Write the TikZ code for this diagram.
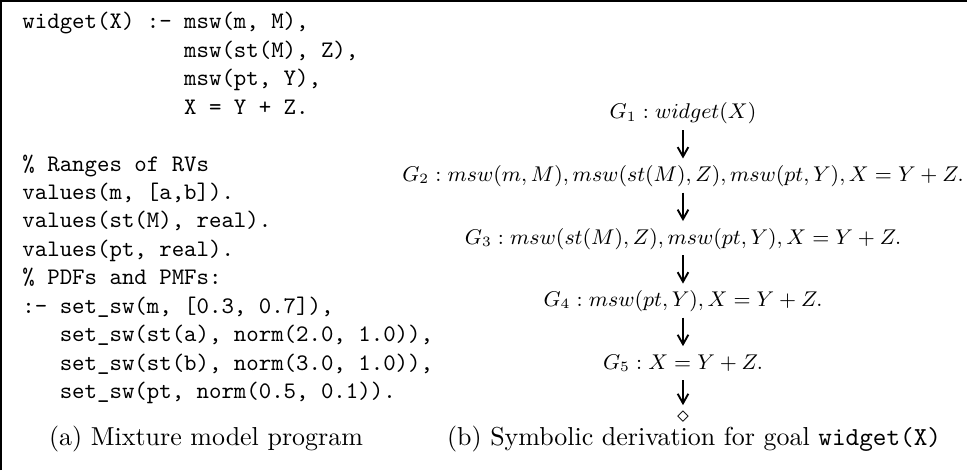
\documentclass[tikz,border=0pt]{standalone}
\usepackage{tikz}
\usetikzlibrary{arrows.meta,positioning}
\tikzset{
  codebox/.style={align=left, inner sep=0pt, anchor=north west,
                  font=\fontsize{10}{12}\selectfont\ttfamily},
  goal/.style   ={inner sep=2pt, text height=7.5pt, text depth=2.5pt,
                  font=\fontsize{8.8}{10.5}\selectfont},
  capt/.style   ={inner sep=0pt, anchor=base,
                  font=\fontsize{10.95}{13.6}\selectfont},
  arr/.style    ={-{Straight Barb[length=4pt,width=4.5pt]}, thick},
}

\begin{document}
\begin{tikzpicture}[x=0.422pt, y=0.422pt, node distance=12pt]
  \useasboundingbox (0,0) rectangle (967,470);
  \draw[line width=0.85pt] (1,0) -- (1,469) -- (967,469);

  % (a) the program
  \node[codebox] (prog) at (22,458)
    {widget(X) :- msw(m, M),\\
     \hphantom{widget(X) :- }msw(st(M), Z),\\
     \hphantom{widget(X) :- }msw(pt, Y),\\
     \hphantom{widget(X) :- }X = Y + Z.\\
     \mbox{}\\
     \% Ranges of RVs\\
     values(m, [a,b]).\\
     values(st(M), real).\\
     values(pt, real).\\
     \% PDFs and PMFs:\\
     :- set\_sw(m, [0.3, 0.7]),\\
     \hphantom{:- }set\_sw(st(a), norm(2.0, 1.0)),\\
     \hphantom{:- }set\_sw(st(b), norm(3.0, 1.0)),\\
     \hphantom{:- }set\_sw(pt, norm(0.5, 0.1)).};

  % (b) the derivation
  \node[goal] (g1) at (683,357) {$G_1 : widget(X)$};
  \node[goal, below=of g1] (g2)
        {$G_2 : msw(m, M), msw(st(M), Z), msw(pt, Y), X = Y + Z.$};
  \node[goal, below=of g2] (g3)
        {$G_3 : msw(st(M), Z), msw(pt, Y), X = Y + Z.$};
  \node[goal, below=of g3] (g4) {$G_4 : msw(pt, Y), X = Y + Z.$};
  \node[goal, below=of g4] (g5) {$G_5 : X = Y + Z.$};
  \node[inner sep=1pt, below=of g5] (done) {$\diamond$};

  \draw[arr](g1)--(g2);\draw[arr](g2)--(g3);\draw[arr](g3)--(g4);
  \draw[arr](g4)--(g5);\draw[arr,shorten >=1.5pt](g5)--(done);

  \node[capt] (capa) at (206,25) {(a) Mixture model program};
  \node[capt] (capb) at (694,25)
        {(b) Symbolic derivation for goal \texttt{widget(X)}};
\end{tikzpicture}
\end{document}
